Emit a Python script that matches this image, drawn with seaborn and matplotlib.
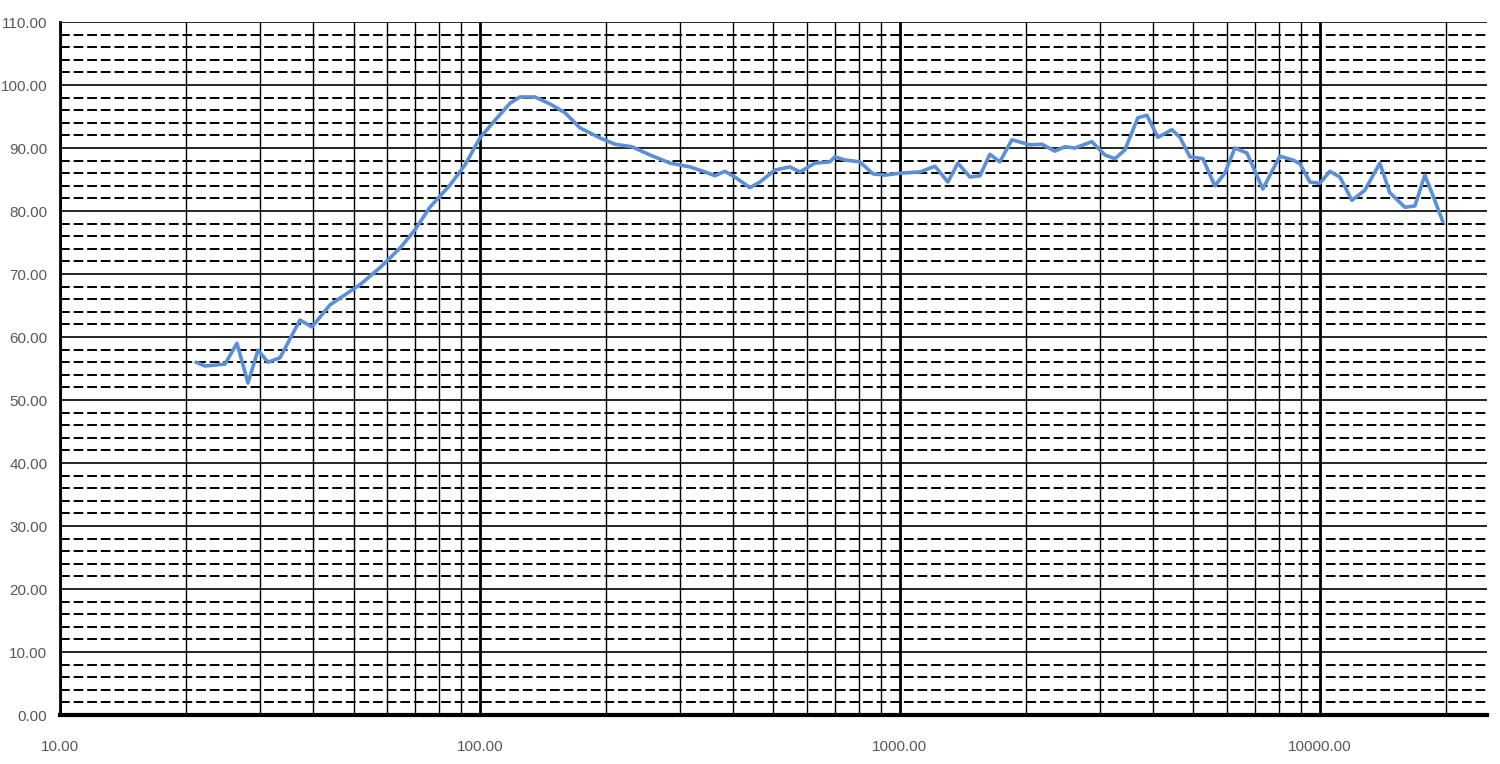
import numpy as np
import pandas as pd
import matplotlib
matplotlib.use("Agg")
import matplotlib.pyplot as plt
import matplotlib.ticker as mticker
import seaborn as sns

# Frequency (Hz) and level (dB)
freq = [21.08, 22.14, 24.71, 26.39, 28.03, 29.61, 31.28, 33.41, 37.28, 39.81, 43.94,
        47.70, 51.79, 57.79, 64.50, 70.0, 76.0, 84.8, 92.1, 100.0, 108.6, 117.9, 124.5,
        135.2, 146.8, 159.4, 173.0, 193.1, 209.7, 230.1, 254.0, 283.5, 316.2, 343.4,
        362.7, 383.1, 404.7, 439.4, 464.2, 504.0, 547.1, 577.9, 627.6, 681.3, 700.0,
        739.6, 803.0, 862.4, 921.1, 1000.0, 1116, 1212, 1301, 1374, 1468, 1551, 1638,
        1730, 1848, 2039, 2178, 2339, 2471, 2610, 2865, 3077, 3251, 3434, 3687, 3874,
        4115, 4442, 4642, 4904, 5266, 5623, 5940, 6276, 6705, 7316, 8030, 8624, 8965,
        9467, 10000, 10563, 11160, 11920, 12800, 13895, 14678, 15940, 16840, 17783,
        18580, 19630]
level = [56.0, 55.4, 55.7, 59.0, 52.7, 57.9, 56.0, 56.7, 62.7, 61.6, 65.1,
         66.7, 68.3, 71.0, 74.1, 77.0, 80.6, 84.1, 87.3, 91.6, 94.4, 97.1, 98.1,
         98.1, 97.0, 95.6, 93.2, 91.6, 90.6, 90.2, 88.9, 87.6, 87.0, 86.2,
         85.6, 86.3, 85.4, 83.7, 84.6, 86.5, 87.0, 86.2, 87.6, 87.8, 88.6,
         88.1, 87.8, 85.9, 85.7, 86.0, 86.2, 87.1, 84.6, 87.6, 85.4, 85.6, 89.0,
         87.8, 91.3, 90.5, 90.6, 89.5, 90.2, 90.0, 91.0, 88.9, 88.3, 89.7, 94.8, 95.2,
         91.7, 92.9, 91.7, 88.6, 88.3, 84.0, 86.0, 90.0, 89.2, 83.5, 88.7, 88.1, 87.5,
         84.6, 84.4, 86.3, 85.4, 81.7, 83.3, 87.6, 82.9, 80.6, 80.8, 85.7,
         82.5, 78.3]

x_ticks = [10, 100, 1000, 10000]
x_labels = ["10.00", "100.00", "1000.00", "10000.00"]
y_ticks = list(range(0, 111, 10))

df = pd.DataFrame({"freq": freq, "level": level})

sns.set_style("white")
plt.rcParams['font.family'] = ['Liberation Sans', 'DejaVu Sans']

fig = plt.figure(figsize=(15, 7.64), dpi=100)
ax = fig.add_axes([0.04, 0.0641, 0.9513, 0.9071])

sns.lineplot(data=df, x="freq", y="level", ax=ax, color="#5B8FD6", linewidth=2.6,
             sort=False, zorder=5)
ax.lines[0].set_solid_joinstyle("round")
ax.set_xscale("log")
ax.set_xlim(10, 25000)
ax.set_ylim(0, 110)
ax.xaxis.set_major_locator(mticker.FixedLocator(x_ticks))
ax.xaxis.set_major_formatter(mticker.FixedFormatter(x_labels))
ax.xaxis.set_minor_locator(mticker.LogLocator(base=10, subs=np.arange(2, 10)))
ax.xaxis.set_minor_formatter(mticker.NullFormatter())
ax.yaxis.set_major_locator(mticker.FixedLocator(y_ticks))
ax.yaxis.set_major_formatter(mticker.FormatStrFormatter("%.2f"))
ax.yaxis.set_minor_locator(mticker.MultipleLocator(2))

ax.grid(which="major", axis="x", color="black", linewidth=2.0)
ax.grid(which="minor", axis="x", color="black", linewidth=1.0)
ax.grid(which="major", axis="y", color="black", linewidth=1.2)
ax.grid(which="minor", axis="y", color="black", linewidth=1.4, linestyle=(0, (5, 2)))

ax.tick_params(which="both", length=0)
ax.tick_params(axis="y", labelsize=11, labelcolor="#595959", pad=9)
ax.tick_params(axis="x", labelsize=11, labelcolor="#595959", pad=18)

for s in ["top", "right"]:
    ax.spines[s].set_visible(False)
ax.spines["left"].set_linewidth(2.0)
ax.spines["left"].set_color("black")
ax.spines["bottom"].set_linewidth(3.0)
ax.spines["bottom"].set_color("black")
ax.set_xlabel("")
ax.set_ylabel("")

fig.savefig("out.png", dpi=100)
